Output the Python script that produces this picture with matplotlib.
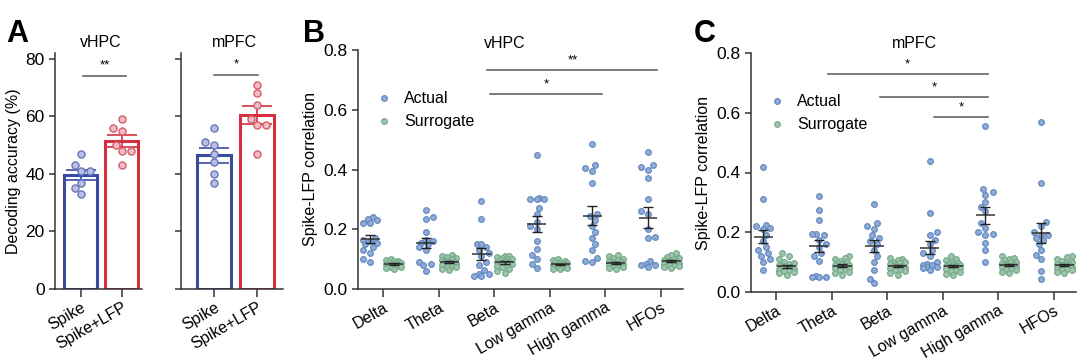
import numpy as np
import matplotlib
matplotlib.use('Agg')
import matplotlib.pyplot as plt

plt.rcParams['font.family'] = ['Liberation Sans', 'DejaVu Sans']
plt.rcParams['axes.linewidth'] = 1.1

# ---- panel A data (decoding accuracy, %)
vhpc_spike = [47, 43, 41, 41, 37, 35, 33]
vhpc_spike_lfp = [59, 56, 55, 50, 48, 48, 43]
mpfc_spike = [56, 51, 50, 47, 44, 40, 37]
mpfc_spike_lfp = [71, 68, 64, 59, 57, 57, 47]
a_labels = ['Spike', 'Spike+LFP']

# ---- panels B/C data (spike-LFP correlation)
bands = ['Delta', 'Theta', 'Beta', 'Low gamma', 'High gamma', 'HFOs']

vhpc_actual = [
    [0.24, 0.235, 0.23, 0.22, 0.22, 0.17, 0.165, 0.16, 0.155, 0.15, 0.14, 0.13, 0.12, 0.10, 0.09],
    [0.265, 0.24, 0.235, 0.19, 0.165, 0.16, 0.155, 0.15, 0.14, 0.13, 0.09, 0.085, 0.08, 0.06],
    [0.295, 0.235, 0.15, 0.15, 0.14, 0.13, 0.12, 0.11, 0.09, 0.08, 0.065, 0.05, 0.05, 0.045, 0.045],
    [0.45, 0.305, 0.30, 0.30, 0.30, 0.27, 0.25, 0.225, 0.21, 0.20, 0.16, 0.135, 0.115, 0.10, 0.085, 0.07],
    [0.485, 0.415, 0.405, 0.395, 0.355, 0.25, 0.245, 0.23, 0.21, 0.19, 0.17, 0.15, 0.13, 0.105, 0.095, 0.09],
    [0.46, 0.415, 0.41, 0.40, 0.37, 0.30, 0.26, 0.25, 0.20, 0.175, 0.17, 0.095, 0.085, 0.08, 0.08, 0.075],
]
vhpc_surr = [
    [0.100, 0.098, 0.095, 0.093, 0.090, 0.088, 0.086, 0.085, 0.084, 0.082, 0.080, 0.078, 0.076, 0.074, 0.072, 0.070, 0.068],
    [0.115, 0.112, 0.108, 0.104, 0.100, 0.097, 0.094, 0.091, 0.089, 0.087, 0.084, 0.080, 0.078, 0.075, 0.072, 0.068, 0.065],
    [0.112, 0.110, 0.108, 0.105, 0.102, 0.099, 0.096, 0.094, 0.092, 0.090, 0.088, 0.085, 0.082, 0.078, 0.074, 0.068, 0.060, 0.055],
    [0.100, 0.098, 0.095, 0.092, 0.090, 0.087, 0.085, 0.083, 0.081, 0.080, 0.078, 0.076, 0.074, 0.072, 0.070, 0.068, 0.066],
    [0.115, 0.110, 0.105, 0.100, 0.097, 0.094, 0.091, 0.089, 0.087, 0.085, 0.083, 0.080, 0.078, 0.076, 0.073, 0.070, 0.066],
    [0.120, 0.114, 0.108, 0.104, 0.100, 0.097, 0.095, 0.093, 0.091, 0.089, 0.087, 0.085, 0.082, 0.080, 0.077, 0.074, 0.070],
]
mpfc_actual = [
    [0.42, 0.31, 0.225, 0.22, 0.215, 0.21, 0.19, 0.17, 0.15, 0.14, 0.13, 0.12, 0.11, 0.10, 0.075],
    [0.32, 0.275, 0.24, 0.195, 0.195, 0.19, 0.175, 0.16, 0.15, 0.13, 0.12, 0.105, 0.055, 0.05, 0.05, 0.05],
    [0.295, 0.23, 0.22, 0.21, 0.19, 0.18, 0.17, 0.16, 0.14, 0.12, 0.10, 0.075, 0.045, 0.03],
    [0.44, 0.265, 0.20, 0.19, 0.175, 0.16, 0.14, 0.13, 0.12, 0.10, 0.095, 0.09, 0.09, 0.085, 0.085, 0.08, 0.075],
    [0.555, 0.345, 0.335, 0.325, 0.30, 0.285, 0.27, 0.23, 0.215, 0.20, 0.195, 0.19, 0.165, 0.14, 0.10],
    [0.57, 0.365, 0.235, 0.22, 0.20, 0.19, 0.19, 0.18, 0.175, 0.16, 0.14, 0.125, 0.11, 0.07, 0.045],
]
mpfc_surr = [
    [0.130, 0.120, 0.110, 0.102, 0.098, 0.094, 0.090, 0.087, 0.085, 0.083, 0.080, 0.078, 0.075, 0.072, 0.069, 0.066, 0.062, 0.058],
    [0.120, 0.115, 0.110, 0.105, 0.100, 0.097, 0.094, 0.091, 0.089, 0.087, 0.085, 0.082, 0.079, 0.076, 0.072, 0.068, 0.063, 0.058],
    [0.115, 0.110, 0.106, 0.102, 0.099, 0.096, 0.093, 0.090, 0.088, 0.086, 0.084, 0.082, 0.079, 0.076, 0.073, 0.069, 0.064, 0.058],
    [0.120, 0.112, 0.106, 0.102, 0.098, 0.095, 0.092, 0.090, 0.088, 0.086, 0.084, 0.081, 0.078, 0.075, 0.071, 0.066, 0.060, 0.056],
    [0.120, 0.115, 0.110, 0.106, 0.102, 0.099, 0.096, 0.094, 0.092, 0.090, 0.088, 0.086, 0.083, 0.080, 0.077, 0.073, 0.068, 0.062],
    [0.122, 0.116, 0.110, 0.105, 0.101, 0.098, 0.095, 0.092, 0.090, 0.088, 0.086, 0.084, 0.081, 0.078, 0.075, 0.072, 0.068, 0.064],
]

# significance brackets: (x_start, x_end, y, label)
vhpc_sig = [(1.88, 4.94, 0.733, '**'), (1.92, 3.95, 0.653, '*')]
mpfc_sig = [(0.93, 3.81, 0.730, '*'), (1.88, 3.81, 0.654, '*'), (2.85, 3.81, 0.587, '*')]

BLUE = '#3a4ca2'
RED = '#d4303f'
ACT_FC, ACT_EC = '#8fabd6', '#5f86bf'
SUR_FC, SUR_EC = '#9cc5ab', '#72a888'

W, H = 1080, 360
fig = plt.figure(figsize=(W / 100, H / 100), dpi=100)


def px_axes(l, t, r, b):
    return fig.add_axes([l / W, 1 - b / H, (r - l) / W, (b - t) / H])


def style(ax):
    for s in ['top', 'right']:
        ax.spines[s].set_visible(False)
    for s in ['left', 'bottom']:
        ax.spines[s].set_color('#333333')
    ax.tick_params(colors='#333333', labelcolor='black', width=1.1)
    ax.tick_params(axis='y', labelsize=12.5)


def swarm(vals, ypx, xpx, d=6.0, wmax=8.0):
    """beeswarm offsets (data units) from values; ypx/xpx = pixels per unit"""
    vals = np.asarray(vals)
    order = np.argsort(vals)
    placed = []
    offs = np.zeros(len(vals))
    steps = [0.0]
    k = 1
    while k * d * 0.4 <= wmax:
        steps += [k * d * 0.4, -k * d * 0.4]
        k += 1
    for n, i in enumerate(order):
        y = vals[i] * ypx
        best, bestd = 0.0, -1
        cands = steps if n % 2 == 0 else [-s for s in steps]
        for c in cands:
            md = min([np.hypot(c - px, y - py) for px, py in placed] or [1e9])
            if md >= d:
                best = c
                break
            if md > bestd:
                best, bestd = c, md
        placed.append((best, y))
        offs[i] = best / xpx
    return offs


# ---------------- panel A
def bar_panel(ax, groups, xlim, ypx, xpx, title, sig, ylabels):
    cols = [BLUE, RED]
    fcs = ['#b7bfe2', '#f2bcc3']
    ecs = ['#6a76ba', '#d65d6c']
    for i, g in enumerate(groups):
        g = np.array(g, float)
        m = g.mean()
        se = g.std(ddof=1) / np.sqrt(len(g))
        ax.bar(i, m, width=0.8, facecolor='white', edgecolor=cols[i], linewidth=2.2, zorder=1)
        ax.errorbar(i, m, yerr=se, color=cols[i], capsize=11, capthick=1.2, elinewidth=1.2, zorder=2)
        ax.scatter(i + swarm(g, ypx, xpx, d=7.5, wmax=9), g, s=26, facecolor=fcs[i], edgecolor=ecs[i],
                   linewidth=1.0, zorder=3)
    ax.set_xlim(*xlim)
    ax.set_ylim(0, 82)
    ax.set_yticks([0, 20, 40, 60, 80])
    if not ylabels:
        ax.set_yticklabels([])
    ax.set_xticks([0, 1])
    ax.set_xticklabels(a_labels, rotation=30, ha='right', rotation_mode='anchor', fontsize=11.5)
    ax.tick_params(axis='x', length=6, pad=2)
    ax.tick_params(axis='y', length=4)
    x0, x1, y, lab = sig
    ax.plot([x0, x1], [y, y], color='#666666', lw=1.2, clip_on=False)
    ax.text((x0 + x1) / 2, y + 1.5, lab, ha='center', va='bottom', fontsize=9.5)
    ax.text(np.mean(xlim) + 0.05, 84, title, ha='center', va='baseline', fontsize=11.5)
    style(ax)


axA1 = px_axes(55, 53, 142, 289)
bar_panel(axA1, [vhpc_spike, vhpc_spike_lfp], (-0.63, 1.49), 2.875, 41, 'vHPC',
          (0.05, 1.1, 74, '**'), True)
axA1.set_ylabel('Decoding accuracy (%)', fontsize=11.5, labelpad=3)

axA2 = px_axes(181, 53, 283, 289)
bar_panel(axA2, [mpfc_spike, mpfc_spike_lfp], (-0.77, 1.6), 2.875, 43, 'mPFC',
          (0.0, 1.02, 74.4, '*'), False)


# ---------------- panels B and C
def corr_panel(ax, actual, surr, sig, title, tx, ty):
    ypx, xpx = 298.75, 55.5
    for i in range(len(bands)):
        for vals, dx, fc, ec in [(actual[i], -0.23, ACT_FC, ACT_EC), (surr[i], 0.19, SUR_FC, SUR_EC)]:
            v = np.array(vals, float)
            xc = i + dx
            ax.scatter(xc + swarm(v, ypx, xpx), v, s=17, facecolor=fc, edgecolor=ec,
                       linewidth=0.8, zorder=2)
            m = v.mean()
            se = v.std(ddof=1) / np.sqrt(len(v))
            ax.hlines(m, xc - 0.17, xc + 0.17, color='#333333', lw=1.1, zorder=3)
            ax.errorbar(xc, m, yerr=se, color='#222222', capsize=3.5, elinewidth=1.0,
                        capthick=1.0, zorder=3)
    ax.set_xlim(-0.45, 5.4)
    ax.set_ylim(0, 0.8)
    ax.set_yticks([0, 0.2, 0.4, 0.6, 0.8])
    ax.set_yticklabels(['0.0', '0.2', '0.4', '0.6', '0.8'])
    ax.set_xticks(range(len(bands)))
    ax.set_xticklabels(bands, rotation=30, ha='right', rotation_mode='anchor', fontsize=11.5)
    ax.tick_params(axis='x', length=6, pad=2)
    ax.tick_params(axis='y', length=4)
    ax.set_ylabel('Spike-LFP correlation', fontsize=11.5, labelpad=4)
    for x0, x1, y, lab in sig:
        ax.plot([x0, x1], [y, y], color='#555555', lw=1.1, clip_on=False)
        ax.text((x0 + x1) / 2, y + 0.012, lab, ha='center', va='bottom', fontsize=9.5)
    ax.text(tx, ty, title, ha='center', va='baseline', fontsize=11.5)
    ha = ax.scatter([], [], s=17, facecolor=ACT_FC, edgecolor=ACT_EC, linewidth=0.8)
    hs = ax.scatter([], [], s=17, facecolor=SUR_FC, edgecolor=SUR_EC, linewidth=0.8)
    ax.legend([ha, hs], ['Actual', 'Surrogate'], loc='upper left', bbox_to_anchor=(0.0, 0.87),
              frameon=False, fontsize=11.5, handletextpad=0.3, labelspacing=0.5, borderaxespad=0.2)
    style(ax)


axB = px_axes(358, 50, 683, 289)
corr_panel(axB, vhpc_actual, vhpc_surr, vhpc_sig, 'vHPC', 2.2, 0.807)

axC = px_axes(751, 53, 1076, 292)
corr_panel(axC, mpfc_actual, mpfc_surr, mpfc_sig, 'mPFC', 2.5, 0.817)

# panel letters
for x, lab in [(6, 'A'), (303, 'B'), (694, 'C')]:
    fig.text(x / W, 1 - 42 / H, lab, fontsize=22, fontweight='bold', ha='left', va='baseline')

fig.savefig('out.png', dpi=100)
